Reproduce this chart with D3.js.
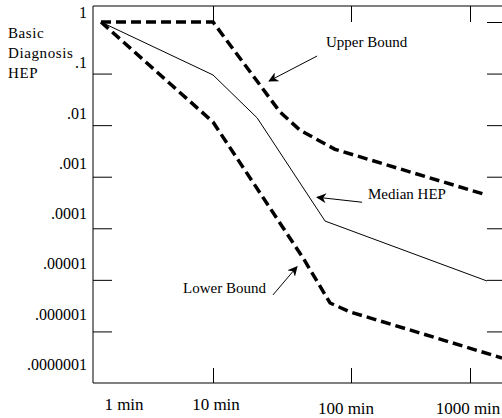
<!DOCTYPE html>
<meta charset="utf-8">
<style>
body { margin: 0; background: #fff; }
svg { display: block; }
text { font-family: "Liberation Serif", "Times New Roman", serif; font-size: 15px; fill: #000; }
.ylab { font-size: 16px; }
.xlab { font-size: 17px; }
.frame, .tick line { stroke: #000; stroke-width: 1; }
.bound { fill: none; stroke: #000; stroke-width: 3.5; stroke-dasharray: 10 5; }
.median { fill: none; stroke: #000; stroke-width: 1; }
.note { stroke: #000; stroke-width: 1; }
</style>
<svg width="502" height="418"></svg>
<script src="https://cdn.jsdelivr.net/npm/d3@7"></script>
<script>
// minutes on x, HEP on y (both log)
var timeTicks = [1, 10, 100, 1000];
var timeLabels = ["1 min", "10 min", "100 min", "1000 min"];
var hepTicks = [1, 1e-1, 1e-2, 1e-3, 1e-4, 1e-5, 1e-6, 1e-7];
var hepLabels = ["1", ".1", ".01", ".001", ".0001", ".00001", ".000001", ".0000001"];

var upperT = [1, 10, 30.6, 42.7, 76.6, 1390];
var upperP = [1, 1, 0.018, 0.008, 0.0034, 0.00044];
var medianT = [1, 10, 20.9, 64.9, 1390];
var medianP = [1, 0.094, 0.0138, 0.000138, 0.0000095];
var lowerT = [1, 10, 45, 70.5, 98, 359, 1858];
var lowerP = [1, 0.0115, 2.65e-5, 3.56e-6, 2.4e-6, 9.7e-7, 3.05e-7];

// annotation: text anchor, arrow tail, arrow head (minutes, HEP)
var notes = [
  {text: "Upper Bound", t: 65.9, p: 0.327, t0: 56.8, p0: 0.219, t1: 25.5, p1: 0.0718},
  {text: "Median HEP", t: 139, p: 3.7e-4, t0: 124, p0: 3.2e-4, t1: 56.8, p1: 4.0e-4},
  {text: "Lower Bound", t: 5.4, p: 5.6e-6, t0: 27.2, p0: 5.1e-6, t1: 40.6, p1: 1.8e-5}
];

var svg = d3.select("svg");
var frameL = 93, frameT = 6, frameB = 383, frameR = 502;

// the paper's decades are not evenly spaced along x
var x = d3.scaleLog().domain(timeTicks).range([101, 213, 351, 470]);
var y = d3.scaleLog().domain([1, 1e-7]).range([22, 383]);
var labelX = d3.scaleLog().domain(timeTicks).range([124, 216, 346, 468]);
var labelY = d3.scaleLog().domain([1, 1e-7]).range([18, 370]);

svg.append("defs").append("marker")
    .attr("id", "head")
    .attr("viewBox", "0 0 10 10")
    .attr("refX", 9).attr("refY", 5)
    .attr("markerWidth", 10).attr("markerHeight", 10)
    .attr("markerUnits", "userSpaceOnUse")
    .attr("orient", "auto")
  .append("path")
    .attr("d", "M0,0L10,5L0,10L3,5Z")
    .attr("fill", "#000");

// frame: left, top, bottom (right side is cut)
svg.append("path")
    .attr("class", "frame")
    .attr("fill", "none")
    .attr("d", "M" + frameR + "," + frameT + "H" + frameL + "V" + frameB + "H" + frameR);

// inward ticks
svg.append("g")
    .attr("transform", "translate(" + frameL + ",0)")
    .call(d3.axisLeft(y).tickValues(hepTicks.slice(1, 7)).tickSize(-19).tickFormat(""))
    .call(function(g) { g.select(".domain").remove(); });
svg.append("g")
    .attr("transform", "translate(" + frameR + ",0)")
    .call(d3.axisRight(y).tickValues(hepTicks.slice(0, 7)).tickSize(-15).tickFormat(""))
    .call(function(g) { g.select(".domain").remove(); });
svg.append("g")
    .attr("transform", "translate(0," + frameT + ")")
    .call(d3.axisTop(x).tickValues(timeTicks.slice(1)).tickSize(-16).tickFormat(""))
    .call(function(g) { g.select(".domain").remove(); });
svg.append("g")
    .attr("transform", "translate(0," + frameB + ")")
    .call(d3.axisBottom(x).tickValues(timeTicks.slice(1)).tickSize(-15).tickFormat(""))
    .call(function(g) { g.select(".domain").remove(); });

svg.selectAll(".ylab")
  .data(hepTicks)
  .enter().append("text")
    .attr("class", "ylab")
    .attr("x", 87)
    .attr("y", function(d) { return labelY(d); })
    .attr("text-anchor", "end")
    .text(function(d, i) { return hepLabels[i]; });

svg.selectAll(".xlab")
  .data(timeTicks)
  .enter().append("text")
    .attr("class", "xlab")
    .attr("x", function(d) { return labelX(d); })
    .attr("y", function(d, i) { return i < 2 ? 410 : 414; })
    .attr("text-anchor", "middle")
    .text(function(d, i) { return timeLabels[i]; });

var title = svg.append("text").attr("x", 8).attr("y", 38)
    .style("font-size", "15px").style("letter-spacing", "0.6px");
["Basic", "Diagnosis", "HEP"].forEach(function(s, i) {
  title.append("tspan").attr("x", 8).attr("dy", i ? 20 : 0).text(s);
});

var line = d3.line()
    .x(function(d) { return x(d[0]); })
    .y(function(d) { return y(d[1]); });

svg.append("path").attr("class", "bound").attr("d", line(d3.zip(upperT, upperP)));
svg.append("path").attr("class", "median").attr("d", line(d3.zip(medianT, medianP)));
svg.append("path").attr("class", "bound").attr("d", line(d3.zip(lowerT, lowerP)));

notes.forEach(function(n) {
  svg.append("line")
      .attr("class", "note")
      .attr("x1", x(n.t0)).attr("y1", y(n.p0))
      .attr("x2", x(n.t1)).attr("y2", y(n.p1))
      .attr("marker-end", "url(#head)");
  svg.append("text")
      .attr("x", x(n.t)).attr("y", y(n.p))
      .text(n.text);
});
</script>
